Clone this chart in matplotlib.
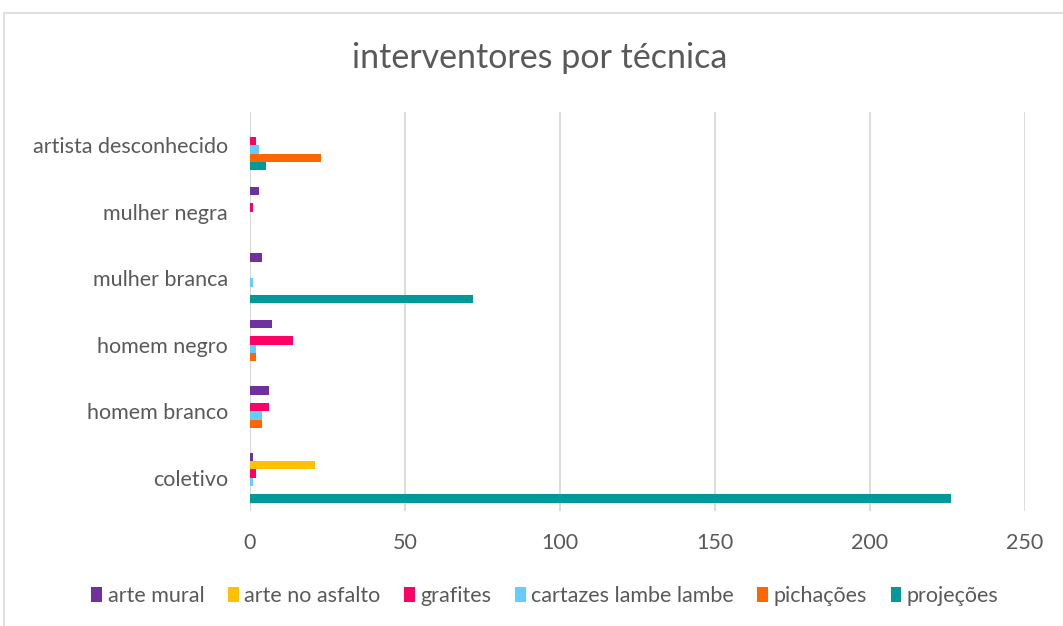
import numpy as np
import matplotlib
matplotlib.use("Agg")
import matplotlib.pyplot as plt
from matplotlib.patches import Rectangle

plt.rcParams["font.family"] = ["Lato", "DejaVu Sans"]

categorias = ["coletivo", "homem branco", "homem negro", "mulher branca",
              "mulher negra", "artista desconhecido"]
series = ["arte mural", "arte no asfalto", "grafites", "cartazes lambe lambe",
          "pichações", "projeções"]
arte_mural = [1, 6, 7, 4, 3, 0]
arte_asfalto = [21, 0, 0, 0, 0, 0]
grafites = [2, 6, 14, 0, 1, 2]
cartazes = [1, 4, 2, 1, 0, 3]
pichacoes = [0, 4, 2, 0, 0, 23]
projecoes = [226, 0, 0, 72, 0, 5]
cores = ["#7030A0", "#FFC000", "#FF0066", "#66CCFF", "#FF6600", "#009999"]
x_ticks = [0, 50, 100, 150, 200, 250]

valores = [arte_mural, arte_asfalto, grafites, cartazes, pichacoes, projecoes]
CINZA = "#595959"

fig = plt.figure(figsize=(10.63, 6.26), dpi=100)
ax = fig.add_axes([250 / 1063, 1 - 511 / 626, 775 / 1063, 399 / 626])

y = np.arange(len(categorias))
h = 0.125
for i, (nome, vals, cor) in enumerate(zip(series, valores, cores)):
    # primeira série no topo do grupo
    off = (2.5 - i) * h
    ax.barh(y + off, vals, height=h, color=cor, label=nome, linewidth=0)

ax.set_xlim(0, 250)
ax.set_ylim(-0.5, len(categorias) - 0.5)
ax.set_xticks(x_ticks)
ax.set_yticks(y, categorias)
ax.tick_params(axis="both", length=0, colors=CINZA, labelsize=15.5)
ax.tick_params(axis="x", pad=16)
ax.tick_params(axis="y", pad=16)
ax.grid(axis="x", color="#D9D9D9", linewidth=1.3)
ax.set_axisbelow(True)
for s in ax.spines.values():
    s.set_visible(False)
ax.axvline(0, color="#D9D9D9", linewidth=1.5, zorder=0)

fig.text(540 / 1063, 1 - 58 / 626, "interventores por técnica", ha="center", va="center",
         fontsize=24.5, color=CINZA)

leg = fig.legend(loc="center", bbox_to_anchor=(545 / 1063, 1 - 596 / 626), ncol=6,
                 frameon=False, fontsize=15.5, handlelength=0.5, handleheight=0.75,
                 handletextpad=0.25, columnspacing=1.1, borderaxespad=0)
for t in leg.get_texts():
    t.set_color(CINZA)

# moldura do gráfico
fig.patches.append(Rectangle((3.5 / 1063, -0.1), 1.2, 1 - 12.5 / 626 + 0.1,
                             transform=fig.transFigure, fill=False,
                             edgecolor="#D9D9D9", linewidth=1.2))

fig.savefig("out.png", dpi=100)
